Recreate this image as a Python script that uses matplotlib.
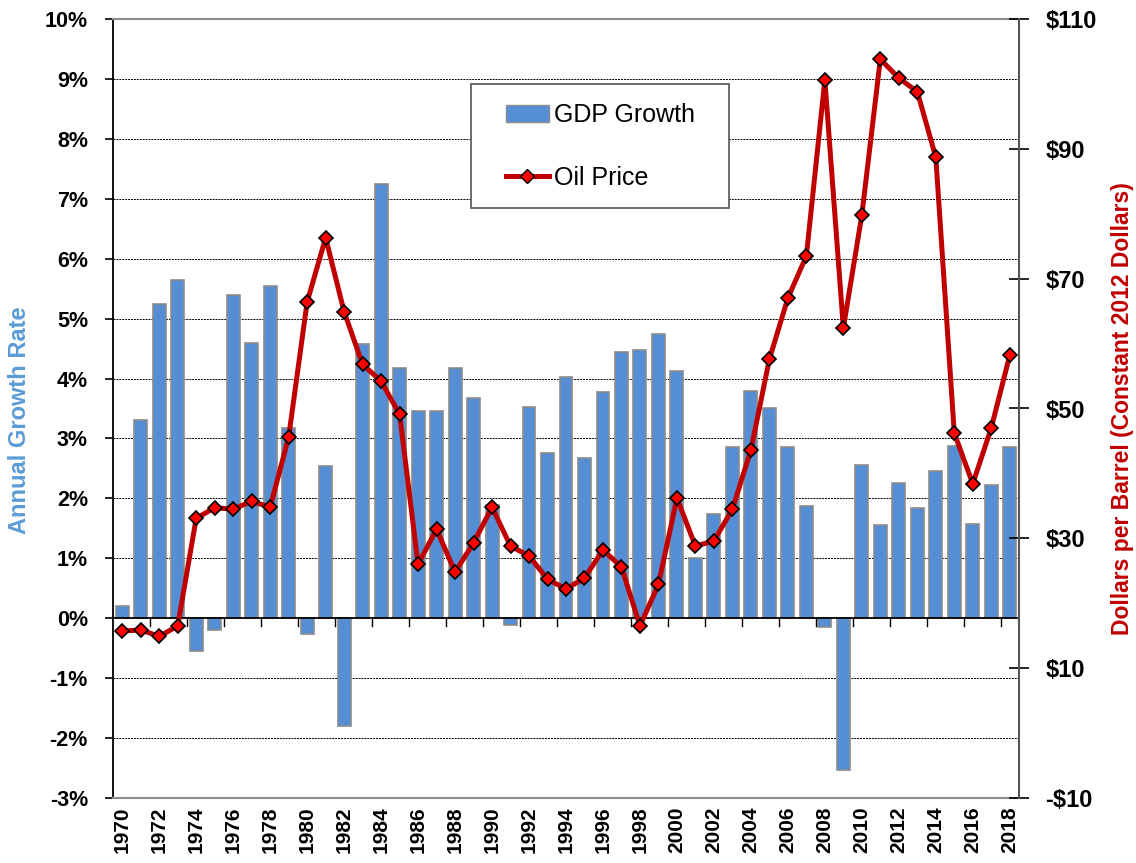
import matplotlib.pyplot as plt
import matplotlib.transforms as mtransforms
from matplotlib.lines import Line2D
from matplotlib.patches import Patch, Rectangle
import numpy as np

plt.rcParams["font.family"] = ["Liberation Sans", "DejaVu Sans"]

years = list(range(1970, 2019))

gdp_growth = [
    0.20, 3.30, 5.25, 5.65, -0.55, -0.20, 5.40, 4.60, 5.55, 3.17,
    -0.26, 2.54, -1.80, 4.58, 7.24, 4.17, 3.46, 3.46, 4.18, 3.67,
    1.89, -0.11, 3.52, 2.75, 4.03, 2.68, 3.77, 4.45, 4.48, 4.75,
    4.13, 1.00, 1.74, 2.86, 3.80, 3.51, 2.86, 1.88, -0.14, -2.54,
    2.56, 1.55, 2.25, 1.84, 2.45, 2.88, 1.57, 2.22, 2.86,
]

oil_price = [
    15.7, 15.9, 14.9, 16.5, 33.1, 34.7, 34.5, 35.7, 34.8, 45.6,
    66.4, 76.3, 64.9, 56.8, 54.2, 49.1, 26.0, 31.4, 24.8, 29.3,
    34.8, 28.8, 27.3, 23.7, 22.2, 23.9, 28.2, 25.6, 16.5, 22.9,
    36.2, 28.8, 29.6, 34.5, 43.6, 57.6, 67.0, 73.5, 100.6, 62.4,
    79.8, 103.8, 100.9, 98.8, 88.7, 46.2, 38.4, 47.0, 58.2,
]

BAR_BLUE = "#558ED5"
LINE_RED = "#C00000"

fig = plt.figure(figsize=(11.36, 8.63), dpi=100)
ax = fig.add_axes([113 / 1136, 65 / 863, 906 / 1136, 779 / 863])
ax2 = ax.twinx()

x = np.arange(len(years))

# GDP bars on the left axis
ax.bar(x, gdp_growth, width=0.7, color=BAR_BLUE, edgecolor="#8C8C8C",
       linewidth=1.2, zorder=2)
ax.set_xlim(-0.5, len(years) - 0.5)
ax.set_ylim(-3, 10)
ax.set_yticks(range(-3, 11))
ax.set_yticklabels([f"{v}%" for v in range(-3, 11)], fontsize=15.5, fontweight="bold")
for v in range(-2, 10):
    if v != 0:
        ax.axhline(v, color="black", linestyle=(0, (2, 1)), linewidth=0.7, zorder=1)
ax.axhline(0, color="black", linewidth=1.3, zorder=3)

# category ticks sitting on the zero line, every other boundary
trans = mtransforms.blended_transform_factory(ax.transData, ax.transData)
for b in np.arange(1.5, len(years) - 0.5, 2):
    ax.plot([b, b], [0, -0.13], color="black", linewidth=1.0, transform=trans,
            zorder=3, clip_on=False)

ax.set_xticks(x[::2])
ax.set_xticklabels([str(y) for y in years[::2]], rotation=90, fontsize=15,
                   fontweight="bold")
ax.tick_params(axis="x", length=0, pad=6)
ax.tick_params(axis="y", direction="out", length=6, width=1.2, pad=12)
ax.set_ylabel("Annual Growth Rate", color="#5B9BD5", fontsize=17,
              fontweight="bold")
ax.yaxis.set_label_coords(-0.09, 0.485)

for side in ("top", "bottom"):
    ax.spines[side].set_color("#8C8C8C")
    ax.spines[side].set_linewidth(1.5)
ax.spines["left"].set_linewidth(1.3)
ax.spines["right"].set_visible(False)

# oil price on the right axis
ax2.plot(x, oil_price, color=LINE_RED, linewidth=3.6, marker="D",
         markersize=7.5, markerfacecolor="#FF0000", markeredgecolor="black",
         markeredgewidth=1.2, zorder=4)
ax2.set_ylim(-10, 110)
ax2.set_yticks(range(-10, 111, 20))
ax2.set_yticklabels([f"-${abs(v)}" if v < 0 else f"${v}" for v in range(-10, 111, 20)],
                    fontsize=17, fontweight="bold")
ax2.tick_params(axis="y", direction="inout", length=14, width=1.2, pad=12)
ax2.set_ylabel("Dollars per Barrel (Constant 2012 Dollars)", color=LINE_RED,
               fontsize=16.5, fontweight="bold", labelpad=10)
ax2.spines["right"].set_color("#555555")
ax2.spines["right"].set_linewidth(1.5)
for side in ("top", "bottom", "left"):
    ax2.spines[side].set_visible(False)

# legend box: wider side padding than matplotlib's frame allows, so draw it separately
ax2.add_patch(Rectangle((0.395, 0.758), 0.285, 0.158, transform=ax2.transAxes,
                        facecolor="white", edgecolor="#555555", linewidth=1.2,
                        zorder=5))
handles = [
    Patch(facecolor=BAR_BLUE, edgecolor="#8C8C8C", label="GDP Growth"),
    Line2D([0], [0], color=LINE_RED, linewidth=3.6, marker="D", markersize=7.5,
           markerfacecolor="#FF0000", markeredgecolor="black", label="Oil Price"),
]
leg = ax2.legend(handles=handles, loc="upper left", bbox_to_anchor=(0.4338, 0.892),
                 fontsize=18, frameon=False, labelspacing=1.55, borderpad=0,
                 handlelength=1.7, handletextpad=0.2, borderaxespad=0)
leg.set_zorder(6)

fig.savefig("out.png", dpi=100)
